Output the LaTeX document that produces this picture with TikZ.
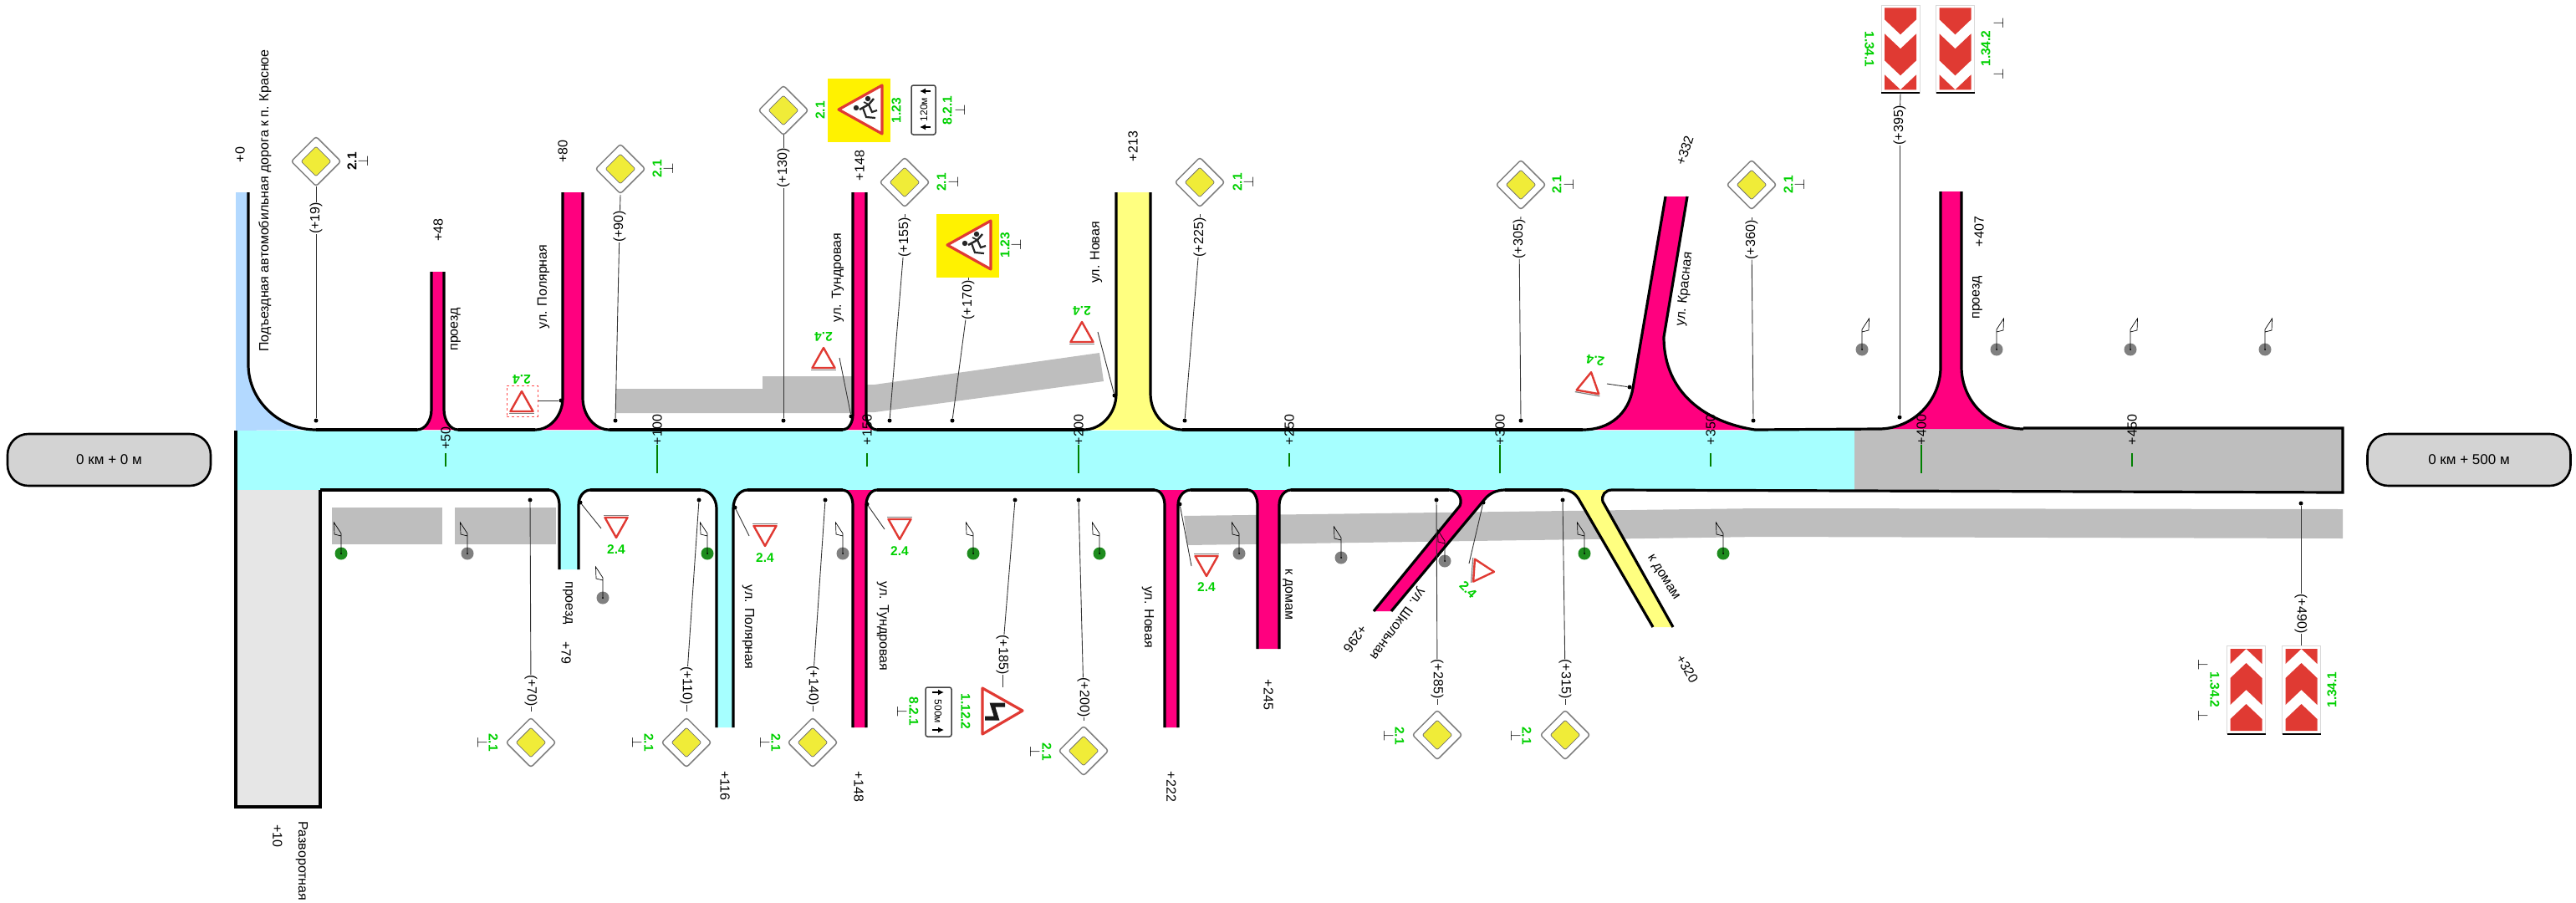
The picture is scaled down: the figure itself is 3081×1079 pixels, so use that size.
\documentclass[tikz,border=0pt]{standalone}
\usepackage{fontspec}
\setmainfont{Liberation Sans}
\usetikzlibrary{shapes.geometric,arrows.meta}

\definecolor{mainroad}{HTML}{A6FFFF}
\definecolor{pinkroad}{HTML}{FF007F}
\definecolor{yellowroad}{HTML}{FFFF80}
\definecolor{blueroad}{HTML}{B3D9FF}
\definecolor{turnroad}{HTML}{E6E6E6}
\definecolor{stripgray}{HTML}{BEBEBE}
\definecolor{boxgray}{HTML}{D3D3D3}
\definecolor{taggreen}{HTML}{00D000}
\definecolor{tickgreen}{HTML}{008000}
\definecolor{lampgreen}{HTML}{1E8C1E}
\definecolor{lampgray}{HTML}{808080}
\definecolor{signred}{HTML}{E03A33}
\definecolor{signyellow}{HTML}{F0EC38}

\tikzset{
	roadline/.style={line width=3.2pt},
	txt/.style={font=\fontsize{16}{18}\selectfont, inner sep=0pt},
	signtag/.style={font=\fontsize{15.5}{18}\selectfont\bfseries, text=taggreen, inner sep=0pt},
	perptag/.style={font=\fontsize{17}{18}\selectfont, inner sep=0pt},
	leader/.style={line width=0.9pt, draw=black!80},
	dotmark/.style={circle, fill=black, inner sep=0pt, minimum size=5pt},
	prio/.style={diamond, aspect=1, draw=black!50, fill=white, line width=1.5pt, rounded corners=3pt, inner sep=0pt, minimum size=60pt},
	prioinner/.style={diamond, aspect=1, draw=black!55, fill=signyellow, line width=0.8pt, rounded corners=2pt, inner sep=0pt, minimum size=36pt},
	kmbox/.style={draw, rounded corners=25pt, fill=boxgray, line width=2.6pt, minimum width=243pt, minimum height=62pt, font=\fontsize{17}{20}\selectfont},
	plate/.style={draw=black!75, fill=white, rounded corners=2.5pt, line width=1.5pt, inner sep=0pt},
	warn/.style={draw=signred, fill=white, line width=3.2pt, line join=round}
}

% side road: x of curve end, two sides, curve end, far end y, curve start y, base y, colour
\newcommand{\sideroad}[8]{
	\fill[#8] (#1,#7) .. controls ({#1+0.55*(#2-#1)},#7) and (#2,{#6+0.55*(#7-#6)}) .. (#2,#6) -- (#2,#5)
		-- (#3,#5) -- (#3,#6) .. controls (#3,{#6+0.55*(#7-#6)}) and ({#4+0.55*(#3-#4)},#7) .. (#4,#7) -- cycle;
	\draw[roadline] (#1,#7) .. controls ({#1+0.55*(#2-#1)},#7) and (#2,{#6+0.55*(#7-#6)}) .. (#2,#6) -- (#2,#5);
	\draw[roadline] (#3,#5) -- (#3,#6) .. controls (#3,{#6+0.55*(#7-#6)}) and ({#4+0.55*(#3-#4)},#7) .. (#4,#7);
}

\begin{document}
\begin{tikzpicture}[x=1pt, y=-1pt]
	\useasboundingbox (0,0) rectangle (3081,1079);

	% gray strips
	\fill[stripgray] (736,465) -- (912,465) -- (912,450) -- (1030,450) -- (1030,494) -- (736,494) -- cycle;
	\fill[stripgray] (1030,460) -- (1046,460) -- (1315,422) -- (1320,456) -- (1046,493) -- (1030,493) -- cycle;
	\fill[stripgray] (397,607) rectangle (529,651);
	\fill[stripgray] (544,607) rectangle (665,651);
	\fill[stripgray] (1416,617) -- (2103,608) -- (2802,609) -- (2802,644) -- (2103,642) -- (1420,652) -- cycle;

	% main road
	\fill[mainroad] (282,515) rectangle (2218,586);
	\fill[stripgray] (2218,513) rectangle (2802,588);
	\draw[roadline] (282,515) -- (282,586);
	\draw[roadline] (2420,512) -- (2802,512) -- (2802,589) -- (1928,586);

	% turnaround
	\fill[turnroad] (282,586) rectangle (383,965);
	\draw[roadline] (282,586) -- (282,965) -- (383,965) -- (383,586);

	% access road
	\fill[blueroad] (282,230) -- (297,230) -- (297,436) .. controls (297,480) and (335,514) .. (378,514) -- (282,515) -- cycle;
	\draw[roadline] (297,230) -- (297,436) .. controls (297,480) and (335,514) .. (378,514);

	% top roads
	\sideroad{499}{516}{531}{548}{325}{490}{514}{pinkroad}
	\sideroad{640}{673}{697}{729}{230}{476}{514}{pinkroad}
	\sideroad{1008}{1020}{1036}{1049}{230}{496}{514}{pinkroad}
	\sideroad{1296}{1335}{1376}{1414}{230}{471}{514}{yellowroad}
	\sideroad{2247}{2321}{2346}{2420}{229}{439}{513}{pinkroad}

	\fill[pinkroad] (1893,514) .. controls (1925,514) and (1948,495) .. (1953,464) -- (1992,235) -- (2018,235)
		-- (1990,403) .. controls (1990,470) and (2040,505) .. (2099,514) -- cycle;
	\draw[roadline] (1893,514) .. controls (1925,514) and (1948,495) .. (1953,464) -- (1992,235);
	\draw[roadline] (2018,235) -- (1990,403) .. controls (1990,470) and (2040,505) .. (2099,514);

	% bottom roads
	\sideroad{657}{669}{692}{706}{681}{604}{586}{mainroad}
	\sideroad{838}{857}{877}{894}{870}{608}{586}{mainroad}
	\sideroad{1008}{1020}{1036}{1049}{870}{604}{586}{pinkroad}
	\sideroad{1381}{1393}{1409}{1424}{870}{604}{586}{pinkroad}
	\sideroad{1493}{1504}{1530}{1544}{776}{604}{586}{pinkroad}

	\fill[pinkroad] (1733,586) .. controls (1743,586) and (1750,596) .. (1746,605) -- (1643,731) -- (1664,731)
		-- (1775,598) .. controls (1781,590) and (1790,586) .. (1800,586) -- cycle;
	\draw[roadline] (1733,586) .. controls (1743,586) and (1750,596) .. (1746,605) -- (1643,731);
	\draw[roadline] (1664,731) -- (1775,598) .. controls (1781,590) and (1790,586) .. (1800,586);

	\fill[yellowroad] (1869,586) .. controls (1880,586) and (1886,592) .. (1890,600) -- (1977,750) -- (2001,750)
		-- (1917,600) .. controls (1915,592) and (1920,586) .. (1928,586) -- cycle;
	\draw[roadline] (1869,586) .. controls (1880,586) and (1886,592) .. (1890,600) -- (1977,750);
	\draw[roadline] (2001,750) -- (1917,600) .. controls (1915,592) and (1920,586) .. (1928,586);

	% straight road edges
	\foreach \a/\b/\y in {378/499/514, 548/640/514, 729/1008/514, 1049/1296/514, 1414/1893/514,
		383/657/586, 706/838/586, 894/1008/586, 1049/1381/586, 1424/1493/586, 1544/1733/586, 1800/1869/586}{
		\draw[roadline] (\a,\y) -- (\b,\y);
	}
	\draw[roadline] (2099,514) -- (2247,513);

	% km boxes
	\node[kmbox] (startbox) at (130.5,550) {0 км + 0 м};
	\node[kmbox] (endbox) at (2953,550) {0 км + 500 м};

	% km ticks
	\foreach \x/\a/\b/\k/\ly in {533/542/558/50/524, 786/532/566/100/514, 1037/542/558/150/514, 1290/532/566/200/514,
		1542/542/558/250/514, 1794/532/566/300/514, 2046/542/558/350/514, 2298/532/566/400/514, 2550/542/558/450/514}{
		\draw[tickgreen, line width=1.4pt] (\x,\a) -- (\x,\b);
		\node[txt, rotate=90] (km\k) at (\x,\ly) {+\k};
	}

	% lamps
	\foreach \x/\y/\c/\s in {408/662/lampgreen/-1, 559/662/lampgray/-1, 721/715/lampgray/-1, 846/662/lampgreen/-1,
		1008/662/lampgray/-1, 1164/662/lampgreen/-1, 1315/662/lampgreen/-1, 1482/662/lampgray/-1, 1604/667/lampgray/-1,
		1728/671/lampgray/-1, 1895/662/lampgreen/-1, 2061/662/lampgreen/-1, 2227/418/lampgray/1, 2388/418/lampgray/1,
		2548/418/lampgray/1, 2709/418/lampgray/1}{
		\fill[\c] (\x,\y) circle (7.5);
		\fill (\x,\y) circle (1);
		\draw[line width=0.7pt] (\x,\y) -- (\x,\y-24) -- (\x+\s*8.5,\y-37) -- (\x+\s*8,\y-23) -- (\x,\y-21);
	}

	% priority signs
	\foreach \x/\y in {378/193, 742/202, 937/132, 1082/218, 1435/218, 1819/221, 2095/221,
		635/888, 821/888, 972/888, 1296/898, 1719/879, 1872/879}{
		\node[prio] (pr\x) at (\x,\y) {};
		\node[prioinner] (pi\x) at (\x,\y) {};
	}

	% children signs
	\foreach \x/\y in {1003/131, 1133/293}{
		\begin{scope}[shift={(\x,\y)}]
			\fill[yellow] (-13,-37) rectangle (62,39);
			\draw[warn] (0,0) -- (52,-29) -- (52,29) -- cycle;
			\fill[black!85] (21,-2) circle (3.2);
			\fill[black!85] (35,-13) circle (3.2);
			\draw[black!85, line width=2.4pt] (25,0) -- (36,-6) -- (42,-13);
			\draw[black!85, line width=2.2pt] (29,-2) -- (33,9) -- (44,10);
			\draw[black!85, line width=2.2pt] (36,-6) -- (40,3) -- (46,1);
			\draw[black!85, line width=1.6pt] (30,-9) -- (36,-6);
		\end{scope}
	}

	% plates
	\node[plate, minimum width=29pt, minimum height=59pt] (plate120) at (1104.5,131.5) {};
	\node[font=\fontsize{12}{14}\selectfont, inner sep=0pt, rotate=90] (text120) at (1105,131) {120м};
	\draw[-{Latex[length=7pt,width=7pt]}, line width=1.6pt] (1113,109) -- (1100,109);
	\draw[-{Latex[length=7pt,width=7pt]}, line width=1.6pt] (1113,152) -- (1100,152);
	\node[plate, minimum width=31pt, minimum height=59pt] (plate500) at (1122.5,851.5) {};
	\node[font=\fontsize{12}{14}\selectfont, inner sep=0pt, rotate=-90] (text500) at (1122,851) {500м};
	\draw[-{Latex[length=7pt,width=7pt]}, line width=1.6pt] (1115,828) -- (1129,828);
	\draw[-{Latex[length=7pt,width=7pt]}, line width=1.6pt] (1115,873) -- (1129,873);

	% winding road sign
	\draw[warn] (1223,850) -- (1175,823) -- (1175,878) -- cycle;
	\draw[line width=5pt, black!90] (1178,859) -- (1192,859) -- (1187,843) -- (1202,843);

	% chevron signs
	\foreach \x/\y/\s in {2273/9.3/1, 2338.5/9.3/1, 2686.5/874/-1, 2752.5/874/-1}{
		\begin{scope}[shift={(\x,\y)}, yscale=\s]
			\fill[white, draw=black!15, line width=1pt] (-23,-3) rectangle (23,102);
			\fill[signred] (-19,0) -- (19,0) -- (19,14) -- (0,32) -- (-19,14) -- cycle;
			\fill[signred] (-19,31) -- (0,49) -- (19,31) -- (19,63) -- (0,81) -- (-19,63) -- cycle;
			\fill[signred] (-19,80) -- (0,98) -- (-19,98) -- cycle;
			\fill[signred] (19,80) -- (0,98) -- (19,98) -- cycle;
		\end{scope}
	}
	\foreach \x/\y in {2273/111, 2338.5/111, 2686.5/878, 2752.5/878}{
		\draw[line width=1.2pt] (\x-23,\y) -- (\x+23,\y);
	}

	% leaders
	\foreach \n/\sx/\sy/\lx/\ly/\dx/\dy/\r in {19/378/223/378/261/378/503/90, 90/742/233/741/271/736/503/90,
		130/937/161/937/201/937/503/90, 155/1082/256/1082/284/1064/503/90, 170/1158/332/1158/359/1139/503/90,
		225/1435/256/1435/284/1417/503/90, 305/1819/259/1817/286/1819/503/90, 360/2095/260/2095/287/2097/503/90,
		395/2273/111/2272/150/2272/499/90,
		70/635/851/635/826/634/598/-90, 110/821/851/821/820/836/598/-90, 140/972/851/972/820/987/598/-90,
		185/1199/822/1199/783/1214/598/-90, 200/1296/862/1296/834/1290/598/-90, 285/1719/843/1719/812/1718/598/-90,
		315/1872/843/1872/812/1869/598/-90, 490/2752/772/2752/734/2752/602/-90}{
		\coordinate (s\n) at (\sx,\sy);
		\node[dotmark] (d\n) at (\dx,\dy) {};
		\node[txt, rotate=\r] (l\n) at (\lx,\ly) {(+\n)};
		\draw[leader] (s\n) -- (l\n);
		\draw[leader] (l\n) -- (d\n);
	}

	% yield signs
	\foreach \n/\x/\y/\r/\lx/\ly/\lr/\ex/\ey/\dx/\dy in {1/624/480/0/624/454/180/643/479/671/479, 2/985/428/0/985/403/180/1004/428/1018/498,
		3/1294/397/0/1294/372/180/1313/397/1333/473, 4/1901/457/-10/1908/431/170/1922/459/1949/463,
		5/737/631/180/737/657/0/719/632/694/601, 6/915/641/180/915/667/0/896/641/879/607,
		7/1076/633/180/1076/659/0/1058/633/1037/603, 8/1443/677/180/1443/702/0/1425/677/1411/603,
		9/1775/683/-94/1756/705/-45/1757/674/1774/601}{
		\begin{scope}[shift={(\x,\y)}, rotate=\r]
			\draw[warn, line width=2.4pt] (0,-12) -- (13.5,12) -- (-13.5,12) -- cycle;
			\draw[black!50, line width=1.2pt] (-15,14.4) -- (15,14.4);
		\end{scope}
		\node[signtag, rotate=\lr] (yt\n) at (\lx,\ly) {2.4};
		\coordinate (ye\n) at (\ex,\ey);
		\node[dotmark] (yd\n) at (\dx,\dy) {};
		\draw[leader] (ye\n) -- (yd\n);
	}
	\node[draw=red!70, dashed, line width=1pt, minimum width=37pt, minimum height=37pt, inner sep=0pt] (dashbox) at (624.5,479.5) {};

	% sign numbers
	\foreach \x/\y/\r/\t in {786/202/90/2.1, 981/132/90/2.1, 1126/218/90/2.1, 1480/218/90/2.1, 1862/221/90/2.1, 2139/221/90/2.1,
		1072/132/90/1.23, 1202/293/90/1.23, 1133/132/90/8.2.1, 2375/58/90/1.34.2, 2236/59/-90/1.34.1,
		590/888/-90/2.1, 776/888/-90/2.1, 928/888/-90/2.1, 1252/899/-90/2.1, 1674/880/-90/2.1, 1826/880/-90/2.1,
		1155/851/-90/1.12.2, 1093/851/-90/8.2.1, 2789/825/90/1.34.1, 2649/825/-90/1.34.2}{
		\node[signtag, rotate=\r] (tag\x) at (\x,\y) {\t};
	}
	\node[signtag, text=black, rotate=90] (tag421) at (421,193) {2.1};

	% bottom marks of the sign numbers
	\foreach \x/\y/\r in {434/193/90, 799/202/90, 1140/218/90, 1148/132/90, 1215/293/90, 1493/218/90, 1876/221/90, 2152/221/90,
		2390/28/90, 2390/89/90, 577/888/-90, 762/888/-90, 915/888/-90, 1079/851/-90, 1238/899/-90, 1661/880/-90, 1813/880/-90,
		2635/795/-90, 2635/856/-90}{
		\node[perptag, rotate=\r] (perp\x-\y) at (\x,\y) {$\perp$};
	}

	% road and mark names
	\foreach \x/\y/\r/\t in {287/185/90/+0, 317/240/90/Подъездная автомобильная дорога к п. Красное, 524/275/90/+48, 545/394/90/проезд,
		673/181/90/+80, 650/343/90/ул. Полярная, 1028/198/90/+148, 1002/332/90/ул. Тундровая, 1355/175/90/+213, 1311/302/90/ул. Новая,
		2015/180/72/+332, 2015/346/84/ул. Красная, 2367/277/90/+407, 2365/356/90/проезд,
		361/1030/-90/Разворотная, 332/1000/-90/+10, 679/721/-90/проезд, 677/781/-90/+79, 895/750/-90/ул. Полярная,
		867/940/-90/+116, 1027/941/-90/+148, 1056/749/-90/ул. Тундровая, 1373/738/-90/ул. Новая, 1401/941/-90/+222,
		1540/711/-90/к домам, 1517/831/-90/+245, 1671/746/-126/ул. Школьная, 1621/764/-126/+296, 1989/691/-58/к домам, 2018/800/-60/+320}{
		\node[txt, rotate=\r] (name\x-\y) at (\x,\y) {\t};
	}
\end{tikzpicture}
\end{document}
